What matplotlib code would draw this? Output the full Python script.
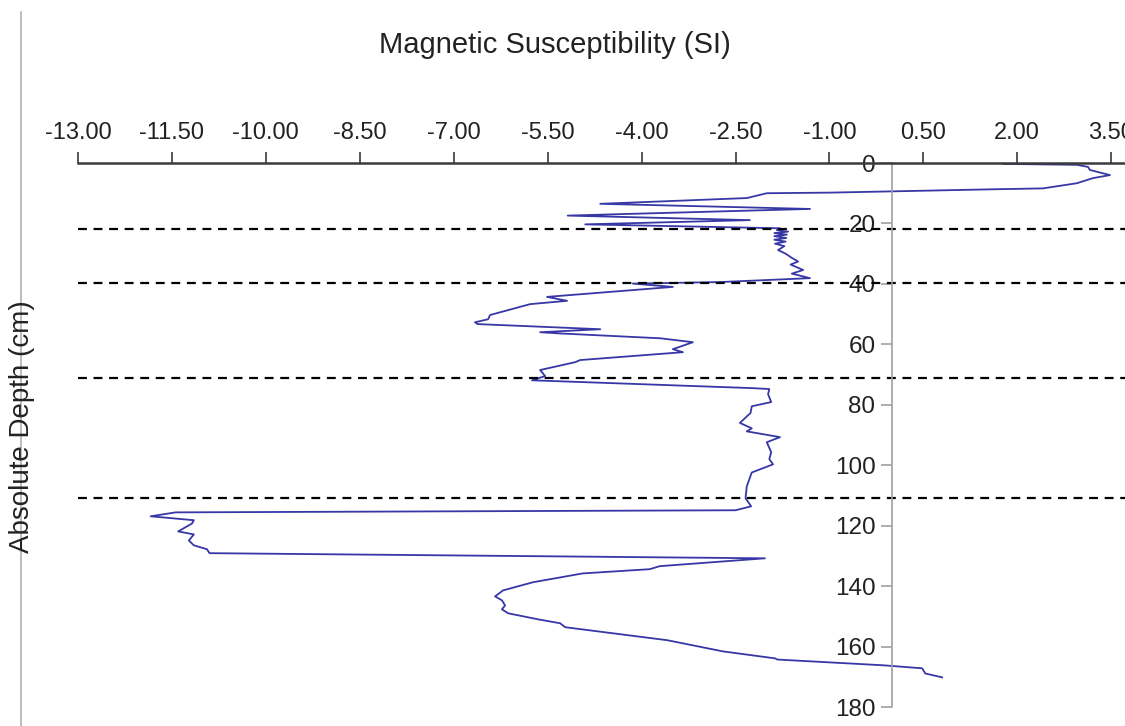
import matplotlib.pyplot as plt
from matplotlib.lines import Line2D
import numpy as np

plt.rcParams['font.family'] = ['Liberation Sans', 'DejaVu Sans']

# depth (cm) and magnetic susceptibility (SI)
depth = [0.3, 0.6, 1.3, 2.3, 4.0, 5.0, 6.7, 8.4, 8.7, 9.6, 9.8, 10.0, 11.6, 13.5,
         15.2, 17.4, 18.9, 20.3, 21.6,
         22.2, 22.7, 23.2, 23.7, 24.2, 24.8, 25.4, 26.0, 26.7, 27.5, 28.8,
         30.0, 31.4, 32.6, 33.6, 35.4, 36.6, 38.1,
         39.4, 39.9, 41.0, 44.3, 45.6, 46.7, 50.3, 51.7, 52.7, 53.3, 55.0, 56.0,
         56.4, 58.0, 59.3, 61.6, 62.6, 65.2, 65.9, 68.5, 70.5, 71.9,
         74.5, 74.8, 76.5, 79.1, 80.5, 82.7, 86.0, 87.8, 88.8, 90.7, 92.4, 95.7,
         98.0, 99.7, 102.4, 107.0, 110.9, 113.6, 114.9,
         115.6, 116.9, 118.2, 119.3, 121.9, 122.9, 124.9, 126.5, 127.8, 129.1,
         130.8, 133.4, 134.4, 135.8, 138.7, 141.4, 143.4, 144.7, 146.4, 147.7,
         149.0, 151.0, 152.3, 153.6, 157.9, 161.6, 163.9, 164.3, 166.2, 167.2,
         168.9, 170.2]
susc = [1.77, 2.95, 3.13, 3.16, 3.48, 3.21, 2.95, 2.41, 1.61, -0.51, -0.99, -2.0, -2.32, -4.66,
        -1.31, -5.18, -2.27, -4.9, -1.79,
        -1.84, -1.66, -1.88, -1.68, -1.88, -1.69, -1.88, -1.70, -1.87, -1.72, -1.82,
        -1.70, -1.60, -1.50, -1.62, -1.42, -1.60, -1.31,
        -2.75, -4.14, -3.50, -5.51, -5.19, -5.78, -6.42, -6.45, -6.66, -6.62, -4.66, -5.62,
        -5.30, -3.70, -3.18, -3.50, -3.34, -4.98, -5.06, -5.62, -5.54, -5.75,
        -2.22, -1.96, -1.98, -1.93, -2.24, -2.26, -2.43, -2.24, -2.32, -1.79, -2.00, -1.93,
        -1.96, -1.90, -2.24, -2.32, -2.34, -2.25, -2.50,
        -11.44, -11.84, -11.15, -11.18, -11.40, -11.15, -11.23, -11.15, -10.94, -10.90,
        -2.03, -3.71, -3.87, -4.94, -5.73, -6.21, -6.34, -6.23, -6.18, -6.23,
        -6.13, -5.65, -5.30, -5.22, -3.59, -2.70, -1.87, -1.83, -0.14, 0.48,
        0.53, 0.80]

boundaries = [21.9, 39.7, 71.2, 110.9]
x_ticks = np.arange(-13.0, 3.51, 1.5)
y_ticks = np.arange(0, 181, 20)

fig = plt.figure(figsize=(11.25, 7.26), dpi=100)
ax = fig.add_axes([78 / 1125, 1 - 707 / 726, 1 - 78 / 1125, (707 - 163) / 726])

ax.plot(susc, depth, color='#3737a6', linewidth=1.3)
for b in boundaries:
    ax.plot([-13, 3.72], [b, b], color='black', linestyle=(0, (4, 3)), linewidth=1.6)

ax.set_xlim(-13, 3.72)
ax.set_ylim(180, 0)

ax.spines['bottom'].set_visible(False)
ax.spines['right'].set_visible(False)
ax.spines['top'].set_color('#3a3a3a')
ax.spines['top'].set_linewidth(1.8)
ax.spines['left'].set_position(('data', 0))
ax.spines['left'].set_color('#a0a0a0')
ax.spines['left'].set_linewidth(1.2)

ax.xaxis.set_ticks_position('top')
ax.set_xticks(x_ticks, [f"{v:.2f}" for v in x_ticks])
ax.tick_params(axis='x', direction='out', length=8, width=1.2, color='#3a3a3a',
               labelsize=17, labelcolor='#222222', pad=6)
ax.set_yticks(y_ticks)
ax.tick_params(axis='y', direction='out', length=8, width=1.2, color='#a0a0a0',
               labelsize=17.5, labelcolor='#222222', pad=4)

fig.text(555 / 1125, 1 - 45 / 726, "Magnetic Susceptibility (SI)", ha='center',
         va='center', fontsize=21, color='#222222')
fig.text(22 / 1125, 1 - 427 / 726, "Absolute Depth (cm)", ha='center', va='center',
         rotation=90, fontsize=20, color='#222222')
fig.add_artist(Line2D([21 / 1125, 21 / 1125], [0, 1 - 12 / 726], color='#b0b0b0',
                      linewidth=1.2))

fig.savefig("out.png", dpi=100)
